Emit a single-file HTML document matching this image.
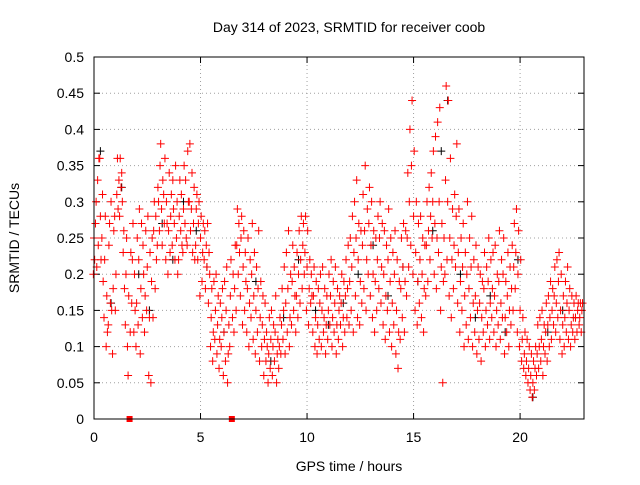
<!DOCTYPE html>
<html><head><meta charset="utf-8"><style>
body{margin:0;background:#fff;}
svg text{font-family:"Liberation Sans",sans-serif;font-size:14px;fill:#000;}
</style></head><body>
<svg id="chart" width="640" height="480" viewBox="0 0 640 480" xmlns="http://www.w3.org/2000/svg">
<rect width="640" height="480" fill="#fff"/>
<text x="349" y="32" text-anchor="middle">Day 314 of 2023, SRMTID for receiver coob</text>
<text x="349" y="471" text-anchor="middle">GPS time / hours</text>
<text transform="translate(19,238) rotate(-90)" text-anchor="middle">SRMTID / TECUs</text>
<g id="grid"></g>
<g id="ticks"></g>
<g id="black"></g>
<g id="red"></g>
<rect x="94" y="57" width="490" height="362" fill="none" stroke="#000" stroke-width="1"/>
</svg>
<script>
const xTicks=[0,5,10,15,20];
const yTicks=[0,0.05,0.1,0.15,0.2,0.25,0.3,0.35,0.4,0.45,0.5];
const yTickLabels=["0","0.05","0.1","0.15","0.2","0.25","0.3","0.35","0.4","0.45","0.5"];
const redStart=0, redStep=0.1;
const redValues=[
[.20,.25,.22],[.27,.30,.21],[.33,.24,.36],[.36,.28,.22],[.25,.31,.19],[.14,.22,.28],[.10,.17,.12],[.13,.24,.27],[.16,.30,.15],[.09,.18,.26],
[.28,.15,.20],[.31,.36,.29],[.33,.28,.36],[.32,.34,.30],[.23,.26,.18],[.13,.20,.25],[.10,.06,.17],[.00,.12,.23],[.16,.22,.27],[.12,.20,.15],
[.10,.16,.25],[.13,.22,.29],[.09,.18,.27],[.14,.24,.20],[.12,.17,.26],[.15,.21,.28],[.06,.14,.23],[.05,.19,.25],[.14,.26,.30],[.18,.28,.22],
[.24,.32,.30],[.26,.35,.38],[.29,.24,.33],[.31,.27,.36],[.22,.30,.27],[.20,.26,.34],[.23,.28,.31],[.24,.33,.29],[.27,.22,.35],[.25,.30,.20],
[.22,.28,.33],[.26,.31,.24],[.23,.29,.35],[.27,.33,.25],[.24,.37,.30],[.30,.38,.26],[.29,.34,.23],[.27,.32,.22],[.24,.29,.31],[.22,.27,.30],
[.17,.25,.28],[.19,.23,.27],[.22,.26,.18],[.24,.21,.27],[.16,.23,.20],[.10,.14,.18],[.08,.12,.19],[.11,.15,.20],[.09,.13,.17],[.07,.11,.16],
[.10,.14,.18],[.06,.12,.19],[.08,.15,.21],[.05,.09,.13],[.10,.17,.22],[.00,.14,.20],[.12,.18,.24],[.15,.24,.29],[.20,.27,.23],[.17,.25,.28],
[.13,.21,.26],[.15,.23,.19],[.12,.18,.25],[.10,.16,.22],[.14,.20,.27],[.11,.17,.23],[.09,.15,.21],[.12,.18,.26],[.08,.14,.19],[.10,.13,.17],
[.06,.11,.16],[.08,.12,.10],[.05,.09,.14],[.07,.11,.15],[.06,.10,.13],[.08,.12,.17],[.05,.09,.11],[.07,.10,.14],[.09,.13,.18],[.11,.15,.21],
[.09,.16,.23],[.12,.18,.26],[.10,.14,.20],[.13,.19,.24],[.15,.21,.17],[.12,.17,.23],[.14,.20,.26],[.16,.22,.28],[.18,.24,.27],[.20,.23,.28],
[.15,.21,.26],[.13,.18,.22],[.16,.20,.17],[.12,.17,.21],[.10,.14,.19],[.09,.13,.18],[.11,.16,.20],[.10,.15,.21],[.12,.14,.18],[.09,.13,.17],
[.11,.15,.20],[.13,.17,.22],[.10,.14,.19],[.12,.16,.21],[.09,.13,.18],[.11,.15,.17],[.13,.16,.20],[.10,.14,.19],[.12,.17,.22],[.14,.18,.24],
[.13,.19,.25],[.15,.21,.28],[.12,.23,.30],[.17,.25,.33],[.14,.22,.27],[.13,.19,.26],[.16,.24,.31],[.18,.26,.35],[.15,.22,.29],[.20,.27,.32],
[.17,.24,.30],[.14,.20,.26],[.12,.19,.25],[.15,.22,.28],[.18,.25,.30],[.16,.21,.27],[.13,.20,.26],[.11,.17,.24],[.15,.22,.29],[.12,.19,.25],
[.10,.16,.23],[.13,.20,.26],[.09,.15,.22],[.07,.12,.19],[.11,.18,.25],[.14,.21,.27],[.12,.19,.26],[.17,.25,.34],[.21,.30,.40],[.24,.35,.44],
[.20,.28,.37],[.15,.23,.30],[.13,.19,.27],[.16,.22,.28],[.14,.20,.25],[.12,.18,.24],[.17,.24,.30],[.19,.26,.32],[.22,.28,.34],[.25,.30,.37],
[.20,.27,.39],[.18,.25,.41],[.23,.30,.43],[.15,.21,.27],[.05,.19,.25],[.20,.33,.46],[.22,.30,.44],[.17,.25,.36],[.14,.22,.29],[.18,.24,.31],
[.21,.28,.38],[.16,.23,.29],[.12,.19,.25],[.15,.21,.27],[.10,.17,.23],[.13,.20,.30],[.11,.18,.25],[.14,.21,.28],[.10,.16,.22],[.12,.17,.24],
[.09,.15,.21],[.11,.16,.20],[.08,.14,.19],[.12,.18,.23],[.10,.15,.21],[.13,.19,.25],[.11,.16,.22],[.14,.18,.23],[.12,.17,.24],[.10,.15,.20],
[.13,.19,.26],[.11,.16,.22],[.14,.20,.25],[.09,.14,.19],[.12,.17,.23],[.10,.15,.21],[.13,.18,.24],[.15,.21,.27],[.18,.23,.29],[.12,.20,.26],
[.10,.15,.22],[.08,.11,.14],[.07,.09,.12],[.06,.08,.11],[.05,.07,.10],[.04,.06,.09],[.03,.05,.08],[.04,.07,.10],[.06,.09,.13],[.07,.10,.14],
[.08,.11,.15],[.06,.10,.13],[.09,.12,.16],[.08,.13,.17],[.10,.14,.19],[.11,.15,.18],[.13,.17,.21],[.12,.16,.22],[.14,.19,.23],[.11,.15,.20],
[.09,.13,.17],[.10,.14,.19],[.12,.16,.21],[.11,.15,.18],[.10,.13,.17],[.12,.14,.16],[.11,.14,.17],[.12,.15,.16],[.13,.14,.16],[.12,.15,.16]
];
const blackTimes=[0.3,0.8,1.3,2.1,2.6,3.2,3.7,4.2,4.8,5.3,6.1,6.9,7.6,8.3,8.9,9.6,10.4,11.0,11.7,12.4,13.1,13.8,14.5,15.2,15.9,16.3,16.6,17.2,17.9,18.6,19.3,19.9,20.6,21.3,22.0,22.6];
const blackValues=[0.37,0.16,0.32,0.20,0.15,0.27,0.22,0.30,0.26,0.21,0.12,0.25,0.19,0.08,0.14,0.22,0.15,0.13,0.16,0.20,0.24,0.17,0.21,0.19,0.26,0.37,0.44,0.20,0.14,0.17,0.12,0.22,0.03,0.12,0.15,0.14];
const NS="http://www.w3.org/2000/svg";
const xs=t=>94+t*(490/23);
const ys=v=>419-v*724;
const grid=document.getElementById('grid'),ticks=document.getElementById('ticks');
function mk(tag,at,par){const e=document.createElementNS(NS,tag);for(const k in at)e.setAttribute(k,at[k]);par.appendChild(e);return e;}
yTicks.forEach((v,i)=>{
 const y=ys(v);
 if(i>0&&i<yTicks.length-1){const g=mk('line',{x1:94,x2:584,y1:y,y2:y,stroke:'#a0a0a0','stroke-dasharray':'1,3'},grid);
 
 }
 mk('line',{x1:94,x2:100,y1:y,y2:y,stroke:'#000'},ticks);
 mk('line',{x1:578,x2:584,y1:y,y2:y,stroke:'#000'},ticks);
 const t=mk('text',{x:84,y:y+5,'text-anchor':'end'},ticks);t.textContent=yTickLabels[i];
 
 
});
xTicks.forEach(v=>{
 const x=xs(v);
 if(v>0){const g=mk('line',{x1:x,x2:x,y1:57,y2:419,stroke:'#a0a0a0','stroke-dasharray':'1,3'},grid);
 
 }
 mk('line',{x1:x,x2:x,y1:419,y2:413,stroke:'#000'},ticks);
 mk('line',{x1:x,x2:x,y1:57,y2:63,stroke:'#000'},ticks);
 const t=mk('text',{x:x,y:442,'text-anchor':'middle'},ticks);t.textContent=String(v);
 
 
});
function plus(x,y,col,par){
 const p=mk('path',{d:`M${x-4},${y}h8M${x},${y-4}v8`,stroke:col,'stroke-width':1,fill:'none'},par);
 
 
}
const bg=document.getElementById('black');
blackTimes.forEach((t,i)=>plus(xs(t),ys(blackValues[i]),'#000',bg));
const rg=document.getElementById('red');
const offs=[-0.03,0,0.03];
redValues.forEach((row,i)=>{
 const t=redStart+i*redStep;
 row.forEach((v,j)=>{
  const x=xs(t+offs[j]),y=ys(v);
  if(v===0){const s=mk('rect',{x:x-3,y:y-3,width:6,height:6,fill:'#f00'},rg);
   
   }
  else plus(x,y,'#f00',rg);
 });
});
</script>
</body></html>
